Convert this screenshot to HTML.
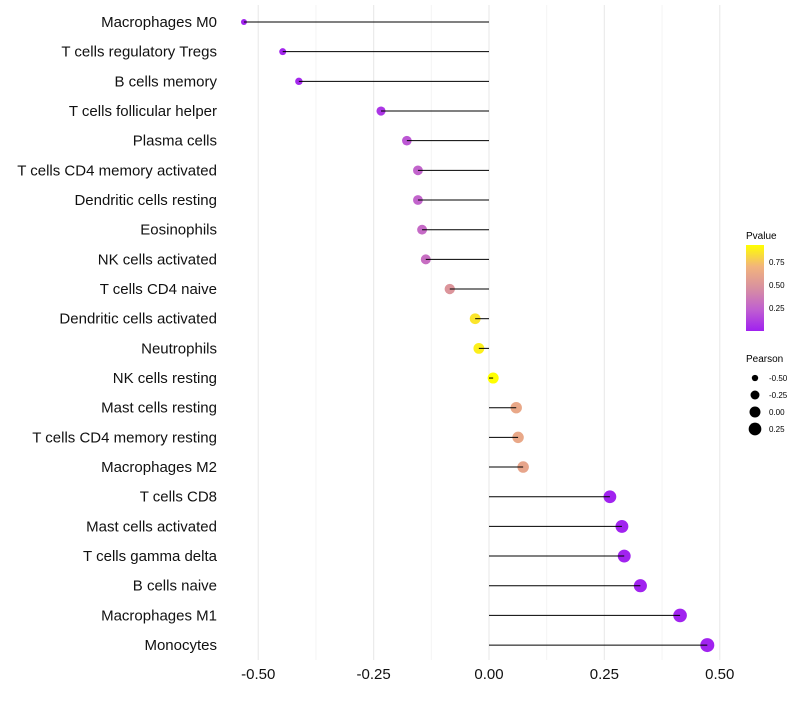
<!DOCTYPE html>
<html><head><meta charset="utf-8"><style>
body{margin:0;background:#fff;font-family:"Liberation Sans",sans-serif}
</style></head><body>
<svg id="chart" width="800" height="700" xmlns="http://www.w3.org/2000/svg" font-family="Liberation Sans, sans-serif">
<defs><linearGradient id="pg" x1="0" y1="1" x2="0" y2="0">
<stop offset="0" stop-color="#a020f0"/><stop offset="0.25" stop-color="#c060d0"/><stop offset="0.5" stop-color="#d890a0"/><stop offset="0.75" stop-color="#f2b47c"/><stop offset="1" stop-color="#ffff00"/></linearGradient></defs>
<g id="grid"></g><g id="marks"></g><g id="labels"></g>
<g>
<text x="746" y="239" font-size="10">Pvalue</text>
<rect x="746" y="245" width="18" height="86" fill="url(#pg)"/>
<text x="769" y="265" font-size="8">0.75</text>
<text x="769" y="288" font-size="8">0.50</text>
<text x="769" y="311" font-size="8">0.25</text>
</g>
<g id="sizeleg">
<text x="746" y="362" font-size="10">Pearson</text>
</g>
</svg>
<script>
const categories=["Macrophages M0","T cells regulatory  Tregs","B cells memory","T cells follicular helper","Plasma cells","T cells CD4 memory activated","Dendritic cells resting","Eosinophils","NK cells activated","T cells CD4 naive","Dendritic cells activated","Neutrophils","NK cells resting","Mast cells resting","T cells CD4 memory resting","Macrophages M2","T cells CD8","Mast cells activated","T cells gamma delta","B cells naive","Macrophages M1","Monocytes"];
const pearson=[-0.531,-0.447,-0.412,-0.234,-0.178,-0.154,-0.154,-0.145,-0.137,-0.085,-0.030,-0.022,0.009,0.059,0.063,0.074,0.262,0.288,0.293,0.328,0.414,0.473];
const pvalue=[0.01,0.02,0.03,0.08,0.2,0.25,0.25,0.28,0.3,0.5,0.85,0.88,0.93,0.62,0.62,0.6,0.01,0.01,0.01,0.01,0.01,0.01];
const xTicks=[-0.5,-0.25,0,0.25,0.5];
const xTickLabels=["-0.50","-0.25","0.00","0.25","0.50"];
const sizeLegend=[-0.5,-0.25,0,0.25];
const sizeLegendLabels=["-0.50","-0.25","0.00","0.25"];
const NS="http://www.w3.org/2000/svg";
const x=v=>489+v*461.5;
const y=i=>22+i*29.67;
const r=v=>Math.sqrt(Math.max(3,30.1+39.9*v));
function lerp(a,b,t){return a.map((c,i)=>Math.round(c+(b[i]-c)*t));}
const stops=[[160,32,240],[192,96,208],[216,144,160],[242,180,124],[255,255,0]];
function col(p){let t=Math.min(1,Math.max(0,p/0.93))*4;let k=Math.min(3,Math.floor(t));
return `rgb(${lerp(stops[k],stops[k+1],t-k)})`;}
function mk(tag,attrs,parent){const e=document.createElementNS(NS,tag);for(const k in attrs)e.setAttribute(k,attrs[k]);parent.appendChild(e);return e;}
const grid=document.getElementById('grid'),marks=document.getElementById('marks'),labels=document.getElementById('labels');
for(let i=0;i<xTicks.length-1;i++){const l=mk('line',{x1:x(xTicks[i]+0.125),x2:x(xTicks[i]+0.125),y1:5,y2:660,stroke:'#f4f4f4','stroke-width':1},grid);
}
xTicks.forEach((t,i)=>{const l=mk('line',{x1:x(t),x2:x(t),y1:5,y2:660,stroke:'#ebebeb','stroke-width':1.2},grid);

const tx=mk('text',{x:x(t),y:679,'font-size':15,'text-anchor':'middle',fill:'#111'},labels);tx.textContent=xTickLabels[i];
});
categories.forEach((c,i)=>{
const tx=mk('text',{x:217,y:y(i)+5,'font-size':15,'text-anchor':'end',fill:'#111'},labels);tx.textContent=c;

const pt=mk('circle',{cx:x(pearson[i]),cy:y(i),r:r(pearson[i]),fill:col(pvalue[i])},marks);

const ln=mk('line',{x1:x(0),x2:x(pearson[i]),y1:y(i),y2:y(i),stroke:'#000','stroke-width':1},marks);
});
const sl=document.getElementById('sizeleg');
sizeLegend.forEach((v,i)=>{const cy=378+i*17;
const c=mk('circle',{cx:755,cy:cy,r:r(v),fill:'#000'},sl);
const t=mk('text',{x:769,y:cy+3,'font-size':8},sl);t.textContent=sizeLegendLabels[i];
});
</script>
</body></html>
